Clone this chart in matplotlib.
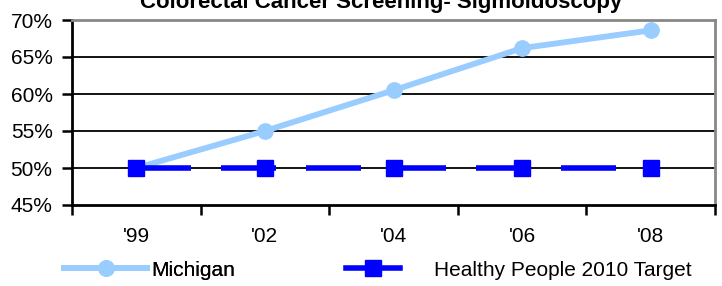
import matplotlib
matplotlib.use("Agg")
import matplotlib.pyplot as plt
from matplotlib.lines import Line2D

plt.rcParams['font.family'] = ['Liberation Sans', 'DejaVu Sans']
plt.rcParams['lines.scale_dashes'] = False

years = ["'99", "'02", "'04", "'06", "'08"]
michigan = [50.0, 55.0, 60.5, 66.2, 68.6]
target = [50.0, 50.0, 50.0, 50.0, 50.0]
yticks = [45, 50, 55, 60, 65, 70]
title = "Colorectal Cancer Screening- Sigmoidoscopy"

mi_color = '#99CCFF'
tg_color = '#0000FF'
fs = 15

fig = plt.figure(figsize=(7.22, 2.86), dpi=100)
ax = fig.add_axes([72/722, 1-205/286, (715-72)/722, (205-20)/286])
x = list(range(len(years)))

for v in yticks[1:-1]:
    ax.axhline(v, color='black', lw=1.3, zorder=1)

ax.plot(x, michigan, color=mi_color, lw=4.2, marker='o', ms=11, zorder=3,
        solid_capstyle='butt')
ax.plot(x, target, color=tg_color, lw=4.0, marker='s', ms=11, zorder=4,
        dashes=(39.6, 21.6), dash_capstyle='butt')

ax.set_xlim(-0.5, len(years) - 0.5)
ax.set_ylim(45, 70)
ax.set_yticks(yticks)
ax.set_yticklabels([f"{v}%" for v in yticks], fontsize=fs)
ax.set_xticks(x)
ax.set_xticklabels(years, fontsize=fs)
ax.set_xticks([i - 0.5 for i in range(len(years) + 1)], minor=True)
ax.tick_params(axis='x', which='major', length=0, pad=16)
ax.tick_params(axis='x', which='minor', length=7, width=1.8, color='black')
ax.tick_params(axis='y', which='major', length=7, width=1.8, pad=7)

for s in ['left', 'bottom']:
    ax.spines[s].set_color('black')
    ax.spines[s].set_linewidth(2.0)
for s in ['top', 'right']:
    ax.spines[s].set_color('#888888')
    ax.spines[s].set_linewidth(2.0)

fig.text(381/722, 1-8/286, title, ha='center', va='baseline',
         fontsize=16, fontweight='bold')

h1 = Line2D([], [], color=mi_color, lw=4.2, marker='o', ms=11)
h2 = Line2D([], [], color=tg_color, lw=4.0, marker='s', ms=11)
leg1 = fig.legend([h1], ['Michigan'], loc='center left',
                  bbox_to_anchor=(64/722, 1-270/286), frameon=False,
                  fontsize=fs, handlelength=4.0, handletextpad=0.2,
                  borderaxespad=0, borderpad=0)
leg2 = fig.legend([h2], ['Healthy People 2010 Target'], loc='center left',
                  bbox_to_anchor=(346/722, 1-270/286), frameon=False,
                  fontsize=fs, handlelength=2.6, handletextpad=1.6,
                  borderaxespad=0, borderpad=0)
fig.add_artist(leg1)

fig.savefig('out.png', dpi=100)
